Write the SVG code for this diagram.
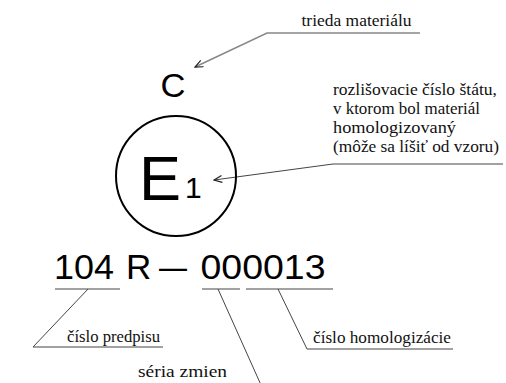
<svg xmlns="http://www.w3.org/2000/svg" width="506" height="383" viewBox="0 0 506 383">
<style>
.ln{stroke:#444;stroke-width:1;fill:none}
</style>
<defs>
<marker id="arr" markerWidth="10" markerHeight="10" refX="9" refY="4" orient="auto" markerUnits="userSpaceOnUse">
<path d="M1,0.5 L9,4 L1,7.5" fill="none" stroke="#222" stroke-width="1.2"/>
</marker>
</defs>
<rect width="506" height="383" fill="#fff"/>
<g id="connectors">
<path d="M420,33 L267,33 L195,67" fill="none" stroke="#888" stroke-width="1.5" marker-end="url(#arr)"/>
<path class="ln" d="M503,164 L333,164 L214,180" marker-end="url(#arr)"/>
<path class="ln" d="M55,289 L120,289"/>
<path class="ln" d="M88,289 L33,347 L163,347"/>
<path class="ln" d="M202,289 L240,289"/>
<path class="ln" d="M218,289 L261,385"/>
<path class="ln" d="M246,289 L333,289"/>
<path class="ln" d="M278,289 L307,349 L453,349"/>
</g>
<g id="class-label"><text font-family="Liberation Serif" font-size="17.5" fill="#111" x="301.5" y="26" textLength="110" lengthAdjust="spacingAndGlyphs">trieda materiálu</text></g>
<g id="class-letter"><text font-family="Liberation Sans" x="160.5" y="97" font-size="33" textLength="25" lengthAdjust="spacingAndGlyphs">C</text></g>
<g id="emark">
<circle cx="176" cy="176" r="60" fill="none" stroke="#000" stroke-width="2"/>
<text font-family="Liberation Sans" x="139" y="200" font-size="63">E</text>
<text font-family="Liberation Sans" x="185" y="198" font-size="30">1</text>
</g>
<g id="country-label" font-family="Liberation Serif" font-size="17.5" fill="#111">
<text x="333" y="95" textLength="164" lengthAdjust="spacingAndGlyphs">rozlišovacie číslo štátu,</text>
<text x="333" y="114" textLength="147" lengthAdjust="spacingAndGlyphs">v ktorom bol materiál</text>
<text x="333" y="133" textLength="123" lengthAdjust="spacingAndGlyphs">homologizovaný</text>
<text x="333" y="152" textLength="166" lengthAdjust="spacingAndGlyphs">(môže sa líšiť od vzoru)</text>
</g>
<g id="approval-number" font-family="Liberation Sans" font-size="35">
<text x="54" y="279" textLength="60" lengthAdjust="spacingAndGlyphs">104</text>
<text x="126" y="279">R</text>
<text x="159" y="279" textLength="28" lengthAdjust="spacingAndGlyphs">–</text>
<text x="200.5" y="279" textLength="125" lengthAdjust="spacingAndGlyphs">000013</text>
</g>
<g id="regulation-label"><text font-family="Liberation Serif" font-size="17.5" fill="#111" x="67" y="342" textLength="93" lengthAdjust="spacingAndGlyphs">číslo predpisu</text></g>
<g id="series-label"><text font-family="Liberation Serif" font-size="17.5" fill="#111" x="138" y="377" textLength="89" lengthAdjust="spacingAndGlyphs">séria zmien</text></g>
<g id="approval-label"><text font-family="Liberation Serif" font-size="17.5" fill="#111" x="313" y="343" textLength="138" lengthAdjust="spacingAndGlyphs">číslo homologizácie</text></g>
</svg>
